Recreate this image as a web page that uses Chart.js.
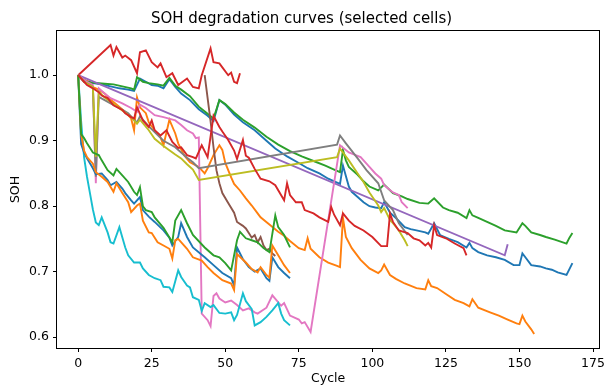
<!DOCTYPE html>
<html>
<head>
<meta charset="utf-8">
<script src="https://cdn.jsdelivr.net/npm/chart.js@4.4.1/dist/chart.umd.min.js"></script>
<style>
  html, body { margin: 0; padding: 0; background: #fff; }
  canvas { display: block; }
</style>
</head>
<body>
<canvas id="soh" width="609" height="385"></canvas>
<script>
// values, one array per cell: [cycle, soh]
const blueLong = [[0,1.0],[2,0.99],[5,0.988],[8,0.986],[11,0.983],[14,0.98],[17,0.978],[19,0.976],[21,0.995],[23,0.99],[25,0.985],[27,0.984],[29,0.98],[31,0.994],[33,0.982],[35,0.972],[38,0.962],[41,0.948],[44,0.938],[46,0.93],[48,0.962],[50,0.955],[53,0.94],[56,0.928],[60,0.916],[64,0.9],[67,0.888],[71,0.876],[75,0.866],[78,0.858],[82,0.85],[85,0.842],[88,0.836],[89,0.834],[90,0.862],[92,0.83],[93,0.822],[95,0.814],[97,0.806],[99,0.8],[101,0.798],[103,0.797],[104,0.806],[106,0.79],[108,0.782],[111,0.768],[113,0.765],[115,0.763],[118,0.76],[119,0.758],[121,0.774],[123,0.756],[126,0.75],[129,0.745],[132,0.737],[133,0.744],[134,0.736],[136,0.73],[139,0.725],[142,0.722],[145,0.718],[148,0.71],[150,0.71],[151,0.728],[152,0.722],[154,0.71],[157,0.708],[159,0.705],[161,0.703],[163,0.699],[166,0.695],[168,0.713]]
const orangeLong = [[0,1.0],[2,0.993],[4,0.99],[5,0.982],[7,0.978],[9,0.972],[12,0.959],[16,0.944],[18,0.934],[19,0.916],[20,0.966],[21,0.951],[23,0.942],[24,0.928],[26,0.916],[28,0.905],[29,0.893],[31,0.932],[33,0.911],[34,0.896],[36,0.878],[38,0.867],[41,0.86],[43,0.85],[44,0.858],[46,0.878],[48,0.893],[49,0.886],[50,0.866],[52,0.844],[53,0.834],[55,0.824],[57,0.812],[59,0.801],[61,0.789],[62,0.783],[65,0.772],[68,0.761],[70,0.755],[72,0.747],[75,0.736],[77,0.733],[78,0.751],[79,0.735],[82,0.722],[85,0.714],[88,0.709],[89,0.707],[90,0.782],[91,0.753],[93,0.736],[96,0.718],[99,0.705],[102,0.698],[103,0.702],[104,0.711],[106,0.695],[108,0.689],[111,0.682],[115,0.675],[118,0.673],[119,0.687],[120,0.678],[122,0.675],[125,0.666],[128,0.657],[131,0.652],[133,0.647],[134,0.658],[136,0.645],[140,0.638],[143,0.633],[146,0.627],[149,0.621],[150,0.62],[151,0.633],[152,0.624],[154,0.612],[155,0.605]]
const greenLong = [[0,1.0],[3,0.99],[6,0.988],[9,0.987],[12,0.986],[15,0.983],[18,0.98],[19,0.978],[20,0.997],[22,0.99],[24,0.988],[27,0.986],[29,0.984],[31,0.996],[33,0.984],[35,0.978],[38,0.968],[41,0.952],[44,0.941],[46,0.934],[48,0.962],[50,0.956],[53,0.943],[56,0.932],[60,0.92],[64,0.906],[68,0.894],[72,0.884],[76,0.876],[80,0.869],[84,0.862],[87,0.856],[89,0.852],[90,0.886],[91,0.87],[92,0.86],[95,0.848],[97,0.838],[99,0.83],[102,0.824],[104,0.833],[107,0.82],[110,0.815],[112,0.811],[116,0.805],[119,0.804],[121,0.812],[124,0.798],[126,0.794],[129,0.79],[132,0.782],[133,0.794],[134,0.786],[136,0.782],[139,0.776],[142,0.77],[145,0.763],[149,0.76],[151,0.774],[152,0.77],[154,0.76],[157,0.756],[159,0.753],[162,0.749],[166,0.743],[167,0.752],[168,0.759]]
const redTop = [[0,1.0],[11,1.046],[12,1.03],[13,1.043],[15,1.027],[16,1.03],[18,1.023],[20,1.003],[21,1.035],[23,1.038],[25,1.02],[27,1.012],[28,1.018],[30,0.997],[32,1.003],[34,0.985],[37,0.995],[39,0.982],[41,0.98],[42,1.0],[45,1.041],[46,1.02],[48,1.018],[49,1.012],[51,1.0],[52,1.004],[53,0.99],[54,0.988],[55,1.003]]
const purple = [[0,1.0],[145,0.725],[146,0.742]]
const brown = [[43,1.0],[45,0.93],[46,0.89],[47,0.855],[48,0.835],[49,0.82],[51,0.805],[53,0.79],[54,0.776],[56,0.77],[57,0.766],[58,0.759],[59,0.752],[60,0.756],[61,0.745],[62,0.753],[63,0.74],[64,0.733],[65,0.735],[66,0.728],[67,0.724]]
const pink = [[0,1.0],[2,0.993],[3,0.99],[5,0.985],[6,0.835],[7,0.98],[9,0.972],[11,0.965],[15,0.957],[18,0.95],[20,0.944],[21,0.955],[23,0.95],[26,0.939],[29,0.936],[33,0.931],[35,0.924],[37,0.916],[39,0.911],[40,0.904],[41,0.905],[42,0.636],[44,0.626],[45,0.617],[46,0.663],[47,0.667],[48,0.659],[50,0.653],[52,0.656],[54,0.649],[56,0.641],[58,0.644],[60,0.638],[61,0.636],[64,0.645],[66,0.664],[69,0.648],[70,0.652],[72,0.633],[75,0.627],[76,0.621],[77,0.623],[79,0.608],[89,0.893],[92,0.882],[96,0.875],[99,0.86],[101,0.85],[103,0.842],[104,0.832],[107,0.821],[109,0.817],[110,0.806],[112,0.797]]
const gray = [[0,1.0],[2,0.99],[4,0.985],[5,0.982],[6,0.845],[7,0.967],[9,0.962],[11,0.957],[14,0.95],[17,0.942],[19,0.932],[20,0.928],[21,0.937],[24,0.922],[26,0.913],[29,0.9],[33,0.89],[35,0.882],[37,0.874],[39,0.867],[41,0.858],[88,0.894],[89,0.908],[91,0.896],[95,0.873],[98,0.855],[102,0.835],[104,0.809],[107,0.794],[109,0.774],[112,0.756]]
const olive = [[0,1.0],[2,0.99],[4,0.985],[5,0.982],[6,0.875],[7,0.975],[9,0.966],[12,0.956],[15,0.946],[18,0.936],[20,0.926],[21,0.932],[24,0.916],[26,0.903],[29,0.892],[33,0.879],[35,0.873],[37,0.864],[39,0.856],[41,0.84],[88,0.875],[89,0.888],[90,0.882],[92,0.87],[95,0.85],[97,0.837],[99,0.821],[102,0.801],[103,0.791],[104,0.797],[106,0.779],[107,0.774],[109,0.763],[111,0.748],[112,0.739]]
const cyan = [[0,1.0],[1,0.93],[2,0.875],[3,0.845],[4,0.82],[5,0.795],[6,0.775],[7,0.771],[8,0.783],[10,0.76],[11,0.745],[12,0.743],[14,0.768],[16,0.737],[17,0.725],[19,0.714],[21,0.714],[22,0.705],[24,0.695],[26,0.69],[28,0.687],[29,0.677],[31,0.676],[32,0.669],[34,0.702],[35,0.692],[37,0.679],[38,0.676],[39,0.661],[41,0.657],[42,0.64],[43,0.652],[45,0.646],[46,0.649],[48,0.637],[50,0.636],[52,0.638],[53,0.626],[54,0.634],[56,0.667],[57,0.655],[59,0.643],[60,0.618],[62,0.623],[64,0.631],[66,0.641],[68,0.652],[69,0.636],[70,0.626],[72,0.618]]
const blueShort = [[0,1.0],[1,0.895],[2,0.882],[3,0.873],[5,0.858],[6,0.849],[8,0.85],[10,0.84],[11,0.832],[13,0.837],[15,0.827],[16,0.82],[18,0.809],[19,0.804],[21,0.814],[22,0.794],[24,0.784],[26,0.776],[29,0.763],[31,0.752],[32,0.74],[34,0.753],[35,0.774],[37,0.753],[39,0.737],[43,0.722],[46,0.71],[49,0.698],[52,0.69],[53,0.679],[54,0.737],[56,0.719],[58,0.707],[60,0.7],[62,0.705],[64,0.69],[65,0.686],[66,0.722],[68,0.707],[70,0.698],[72,0.69]]
const orangeShort = [[0,1.0],[1,0.91],[2,0.885],[3,0.875],[5,0.865],[6,0.852],[8,0.845],[10,0.837],[12,0.822],[13,0.835],[15,0.82],[17,0.806],[18,0.791],[20,0.801],[21,0.804],[22,0.778],[24,0.76],[25,0.759],[27,0.745],[29,0.74],[31,0.735],[32,0.72],[33,0.748],[34,0.75],[37,0.735],[39,0.722],[42,0.717],[44,0.707],[46,0.698],[49,0.687],[52,0.682],[53,0.672],[54,0.727],[57,0.714],[59,0.704],[61,0.699],[62,0.707],[64,0.695],[65,0.691],[66,0.74],[68,0.725],[70,0.71],[72,0.698]]
const greenShort = [[0,1.0],[1,0.91],[2,0.904],[3,0.896],[5,0.882],[7,0.878],[8,0.87],[10,0.855],[12,0.847],[13,0.857],[15,0.847],[17,0.837],[19,0.822],[20,0.817],[21,0.829],[22,0.8],[23,0.794],[25,0.791],[26,0.783],[29,0.767],[32,0.745],[33,0.778],[35,0.794],[37,0.774],[39,0.756],[43,0.737],[46,0.725],[48,0.722],[50,0.713],[52,0.702],[54,0.748],[55,0.761],[57,0.751],[59,0.748],[61,0.745],[63,0.736],[65,0.73],[67,0.786],[68,0.768],[70,0.756],[72,0.737]]
const redLong = [[0,1.0],[2,0.99],[3,0.985],[5,0.98],[7,0.974],[8,0.969],[10,0.965],[12,0.954],[15,0.947],[16,0.942],[18,0.936],[19,0.934],[20,0.951],[22,0.931],[24,0.921],[25,0.931],[26,0.916],[28,0.908],[30,0.916],[32,0.898],[34,0.889],[35,0.89],[37,0.878],[39,0.875],[40,0.873],[42,0.893],[44,0.875],[46,0.938],[48,0.921],[49,0.914],[51,0.901],[53,0.885],[54,0.872],[56,0.901],[57,0.877],[58,0.874],[60,0.857],[62,0.842],[65,0.838],[67,0.832],[70,0.809],[71,0.835],[72,0.817],[74,0.806],[76,0.806],[77,0.794],[80,0.789],[82,0.783],[85,0.776],[86,0.799],[87,0.787],[89,0.771],[90,0.789],[92,0.778],[94,0.77],[97,0.763],[100,0.753],[103,0.739],[105,0.739],[106,0.789],[107,0.776],[109,0.763],[112,0.759],[114,0.751],[116,0.748],[118,0.74],[119,0.744],[120,0.737],[121,0.771],[122,0.756],[125,0.751],[128,0.743],[131,0.736],[132,0.725]]

const xTicks = [0, 25, 50, 75, 100, 125, 150, 175]
const yTicks = [0.6, 0.7, 0.8, 0.9, 1.0]

// matplotlib tab10 cycle, in plotting order
const series = [
    [blueLong, '#1f77b4'],
    [orangeLong, '#ff7f0e'],
    [greenLong, '#2ca02c'],
    [redTop, '#d62728'],
    [purple, '#9467bd'],
    [brown, '#8c564b'],
    [pink, '#e377c2'],
    [gray, '#7f7f7f'],
    [olive, '#bcbd22'],
    [cyan, '#17becf'],
    [blueShort, '#1f77b4'],
    [orangeShort, '#ff7f0e'],
    [greenShort, '#2ca02c'],
    [redLong, '#d62728'],
]

const font = 'DejaVu Sans'

// full box around the plot like matplotlib spines
const frame = {
    id: 'frame',
    afterDraw(chart) {
        const { ctx, chartArea: a } = chart
        ctx.save()
        ctx.strokeStyle = '#000'
        ctx.lineWidth = 1
        ctx.strokeRect(
            Math.round(a.left) - 0.5,
            Math.round(a.top) - 0.5,
            Math.round(a.right - a.left) + 1,
            Math.round(a.bottom - a.top) + 1
        )
        ctx.restore()
    },
}

const tickStyle = {
    display: true,
    drawOnChartArea: false,
    drawTicks: true,
    tickLength: 4,
    tickColor: '#000',
    tickWidth: 1,
}

new Chart(document.getElementById('soh'), {
    type: 'line',
    data: {
        datasets: series.map(([pts, color], i) => ({
            data: pts.map(([x, y]) => ({ x, y })),
            borderColor: color,
            backgroundColor: color,
            borderWidth: 1.9,
            pointRadius: 0,
            tension: 0,
            fill: false,
            order: -i,
        })),
    },
    options: {
        responsive: false,
        animation: false,
        layout: { padding: { left: 0, right: 6, top: 0, bottom: 0 } },
        plugins: {
            legend: { display: false },
            tooltip: { enabled: false },
            title: {
                display: true,
                text: 'SOH degradation curves (selected cells)',
                color: '#000',
                font: { family: font, size: 15, weight: 'normal' },
                padding: { top: 10, bottom: 3 },
            },
        },
        scales: {
            x: {
                type: 'linear',
                min: -7.2,
                max: 177.1,
                grid: tickStyle,
                border: { display: false },
                afterBuildTicks: s => {
                    s.ticks = xTicks.map(v => ({ value: v }))
                },
                afterFit: s => {
                    s.height = 37
                },
                ticks: {
                    color: '#000',
                    padding: 4,
                    maxRotation: 0,
                    font: { family: font, size: 12.5 },
                    callback: v => String(v),
                },
                title: {
                    display: true,
                    text: 'Cycle',
                    color: '#000',
                    font: { family: font, size: 12.5, lineHeight: 1 },
                    padding: { top: 0, bottom: 0.5 },
                },
            },
            y: {
                type: 'linear',
                min: 0.5835,
                max: 1.0675,
                grid: tickStyle,
                border: { display: false },
                afterBuildTicks: s => {
                    s.ticks = yTicks.map(v => ({ value: v }))
                },
                afterFit: s => {
                    s.width = 57
                },
                ticks: {
                    color: '#000',
                    padding: 4,
                    font: { family: font, size: 12.5 },
                    callback: v => v.toFixed(1),
                },
                title: {
                    display: true,
                    text: 'SOH',
                    color: '#000',
                    font: { family: font, size: 12.5, lineHeight: 1 },
                    padding: { top: 9, bottom: 0 },
                },
            },
        },
    },
    plugins: [frame],
})
</script>
</body>
</html>
